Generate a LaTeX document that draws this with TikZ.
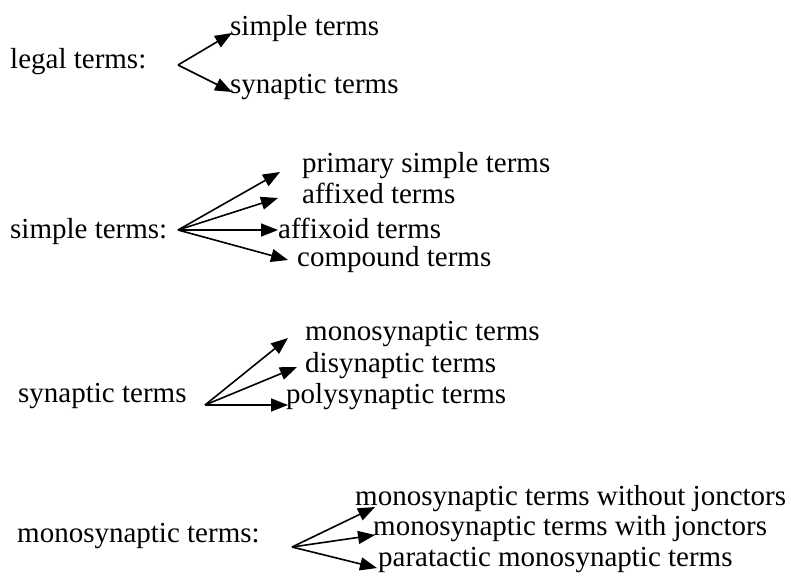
\documentclass[tikz,border=0pt]{standalone}
\usepackage{fontspec}
\setmainfont{Liberation Serif}
\usepackage{tikz}
\usetikzlibrary{arrows.meta}

\begin{document}
\begin{tikzpicture}[
  x=1pt, y=-1pt,
  term/.style={inner sep=0pt, anchor=base west, font=\fontsize{29}{35}\selectfont},
  arrow/.style={-{Triangle[length=17pt,width=13pt]}, line width=1.6pt}
]
\useasboundingbox (0,0) rectangle (791,579);
% legal terms
\node[term] (legal) at (10,68) {legal terms:};
\node[term] (simple) at (230,35) {simple terms};
\node[term] (synaptic) at (230,93) {synaptic terms};
\coordinate (legalfork) at (178,65);
\draw[arrow] (legalfork) -- ([shift={(2,-2)}]simple.base west);
\draw[arrow] (legalfork) -- ([shift={(2,-1)}]synaptic.base west);
% simple terms
\node[term] (simplehead) at (10,238) {simple terms:};
\node[term] (primary) at (302,172) {primary simple terms};
\node[term] (affixed) at (302,203) {affixed terms};
\node[term] (affixoid) at (278,238) {affixoid terms};
\node[term] (compound) at (297,266) {compound terms};
\coordinate (simplefork) at (178,230);
\draw[arrow] (simplefork) -- ([shift={(-22,0)}]primary.base west);
\draw[arrow] (simplefork) -- ([shift={(-24,-5)}]affixed.base west);
\draw[arrow] (simplefork) -- ([shift={(0,-8)}]affixoid.base west);
\draw[arrow] (simplefork) -- ([shift={(-9,-6)}]compound.base west);
% synaptic terms
\node[term] (synhead) at (18,402) {synaptic terms};
\node[term] (mono) at (305,340) {monosynaptic terms};
\node[term] (di) at (305,372) {disynaptic terms};
\node[term] (poly) at (286,403) {polysynaptic terms};
\coordinate (synfork) at (205,405);
\draw[arrow] (synfork) -- ([shift={(-17,-2)}]mono.base west);
\draw[arrow] (synfork) -- ([shift={(-8,-5)}]di.base west);
\draw[arrow] (synfork) -- ([shift={(2,2)}]poly.base west);
% monosynaptic terms
\node[term] (monohead) at (17,542) {monosynaptic terms:};
\node[term] (without) at (355,505) {monosynaptic terms without jonctors};
\node[term] (with) at (373,535) {monosynaptic terms with jonctors};
\node[term] (paratactic) at (378,566) {paratactic monosynaptic terms};
\coordinate (monofork) at (292,547);
\draw[arrow] (monofork) -- ([shift={(20,2)}]without.base west);
\draw[arrow] (monofork) -- ([shift={(2,0)}]with.base west);
\draw[arrow] (monofork) -- ([shift={(-1,2)}]paratactic.base west);
\end{tikzpicture}
\end{document}
